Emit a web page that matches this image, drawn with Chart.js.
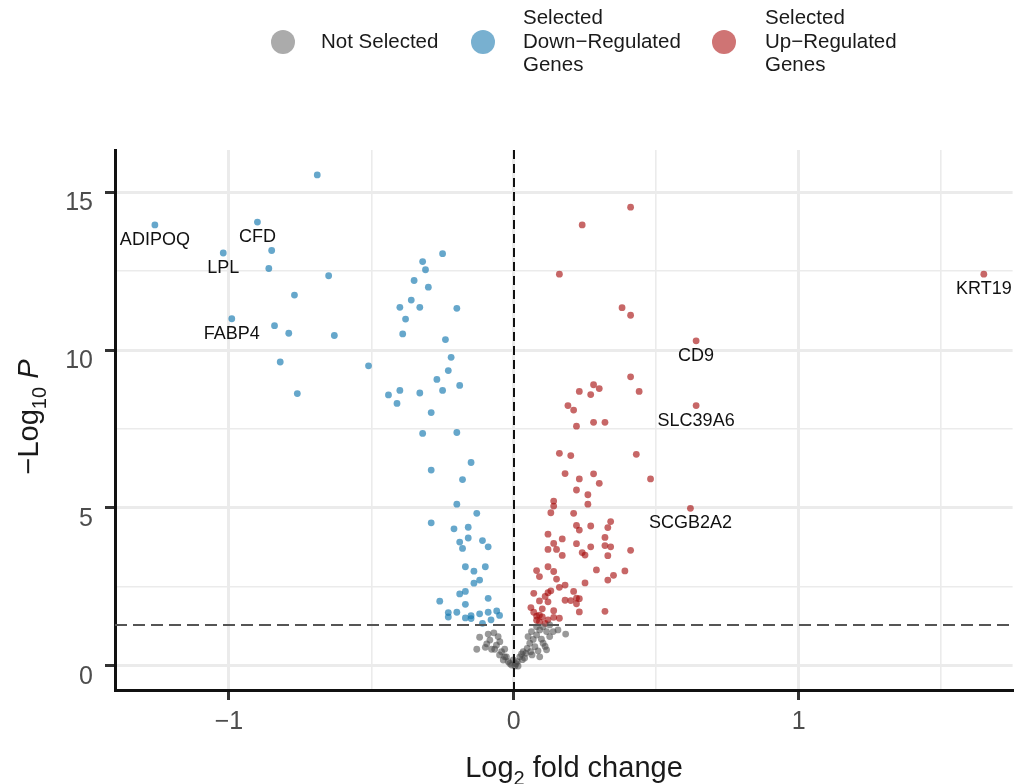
<!DOCTYPE html>
<html><head><meta charset="utf-8">
<script src="https://cdn.jsdelivr.net/npm/chart.js@4"></script>
<style>html,body{margin:0;padding:0;background:#fff;overflow:hidden}</style>
</head><body>
<canvas id="c" width="1016" height="784"></canvas>
<script>
// ---------- data ----------
const notSelectedX = [-0.12,-0.09,-0.07,-0.055,-0.13,-0.10,-0.067,-0.049,-0.043,-0.032,-0.02,-0.008,0.004,0.012,0.021,0.033,0.047,0.056,0.068,0.08,0.091,0.103,0.115,0.126,0.138,0.155,0.182,0.091,0.115,0.074,0.103,0.062,0.08,0.126,0.05,-0.026,-0.037,-0.084,-0.061,0.015,-0.002,0.027,0.042,-0.032,0.059,-0.078,
 -0.014,0.008,0.038,-0.05,0.064,0.097,0.11,-0.095,0.03,0.085];
const notSelectedY = [0.91,1.01,1.05,0.93,0.53,0.59,0.53,0.77,0.45,0.29,0.14,0.03,0.0,0.14,0.29,0.45,0.56,0.72,0.84,0.98,1.14,1.24,1.09,0.93,1.09,1.14,1.01,0.29,0.51,0.61,0.72,1.09,1.24,1.30,0.93,0.29,0.19,0.82,0.66,0.0,0.19,0.38,0.40,0.53,0.45,0.53,
 0.08,0.07,0.25,0.35,0.35,0.85,0.62,0.70,0.20,0.48];

const downX = [-0.69,-1.26,-0.90,-0.85,-1.02,-0.86,-0.65,-0.77,-0.99,-0.84,-0.79,-0.63,-0.82,-0.76,
 -0.25,-0.32,-0.31,-0.35,-0.30,-0.36,-0.40,-0.33,-0.20,-0.38,-0.39,-0.24,-0.22,-0.51,-0.23,-0.27,-0.19,-0.25,-0.40,-0.44,-0.33,-0.41,-0.29,
 -0.32,-0.20,-0.15,-0.29,-0.18,-0.20,-0.13,-0.29,-0.21,-0.16,-0.19,-0.16,-0.11,-0.18,-0.09,-0.17,-0.10,-0.14,-0.12,-0.14,-0.17,-0.19,-0.26,-0.17,-0.09,-0.23,-0.23,-0.20,-0.17,-0.15,-0.15,-0.12,-0.09,-0.06,-0.05,-0.08,-0.11];
const downY = [15.54,13.96,14.05,13.15,13.07,12.58,12.35,11.74,10.99,10.77,10.53,10.46,9.62,8.62,
 13.05,12.80,12.54,12.20,11.99,11.58,11.35,11.35,11.32,10.98,10.51,10.33,9.77,9.50,9.35,9.07,8.88,8.72,8.72,8.58,8.64,8.31,8.02,
 7.36,7.39,6.44,6.20,5.90,5.12,4.83,4.53,4.34,4.39,3.92,4.05,3.97,3.72,3.77,3.14,3.14,3.00,2.72,2.62,2.36,2.28,2.05,1.95,2.14,1.69,1.55,1.70,1.52,1.59,1.50,1.65,1.70,1.74,1.60,1.46,1.35];

const upX = [0.41,0.24,0.16,0.38,0.41,0.64,0.41,0.28,0.30,0.23,0.27,0.44,0.64,0.19,0.21,
 0.22,0.28,0.32,0.16,0.20,0.43,0.18,0.28,0.23,0.30,0.48,0.22,0.26,0.26,0.14,0.14,0.13,0.21,0.22,0.23,0.27,0.34,0.33,0.12,0.17,0.32,0.14,0.22,0.27,0.32,0.34,0.41,0.12,0.15,0.17,0.24,0.25,0.33,
 0.08,0.09,0.12,0.14,0.15,0.29,0.39,0.35,0.33,0.25,0.07,0.09,0.12,0.13,0.12,0.16,0.18,0.18,0.21,0.20,0.22,0.23,0.22,0.23,0.32,0.10,0.07,0.08,0.14,0.16,0.14,0.12,0.11,0.09,
 0.08,0.10,0.06,0.11,0.09,0.62,1.65];
const upY = [14.52,13.96,12.40,11.34,11.10,10.29,9.15,8.90,8.78,8.69,8.59,8.69,8.24,8.24,8.10,
 7.59,7.71,7.71,6.73,6.66,6.70,6.09,6.08,5.92,5.78,5.92,5.57,5.42,5.12,5.22,5.06,4.85,4.83,4.45,4.30,4.43,4.57,4.38,4.17,4.02,4.07,3.88,3.87,3.77,3.81,3.77,3.66,3.69,3.69,3.50,3.59,3.51,3.49,
 3.02,2.83,3.14,2.99,2.75,3.04,3.01,2.87,2.72,2.63,2.30,2.06,2.32,2.38,2.03,2.49,2.56,2.08,2.36,2.07,2.15,2.13,1.97,1.71,1.73,1.81,1.70,1.58,1.75,1.51,1.54,1.46,1.35,1.61,
 1.45,1.55,1.85,2.20,1.40,4.99,12.40];

const geneNames = ['ADIPOQ','CFD','LPL','FABP4','KRT19','CD9','SLC39A6','SCGB2A2'];
const geneX = [-1.26,-0.90,-1.02,-0.99,1.65,0.64,0.64,0.62];
const geneY = [13.96,14.05,13.07,10.99,12.40,10.29,8.24,4.99];

const seriesNames = [['Not Selected'],['Selected','Down\u2212Regulated','Genes'],['Selected','Up\u2212Regulated','Genes']];

const xGridValues = [-1,-0.5,0,0.5,1,1.5];
const xTickValues = [-1,0,1];
const xTickLabels = ['\u22121','0','1'];
const yGridValues = [0,2.5,5,7.5,10,12.5,15];
const yTickValues = [0,5,10,15];
const yTickLabels = ['0','5','10','15'];

const pCutoff = 1.3;   // -log10(0.05)
const fcCutoff = 0;

// ---------- chart ----------
const FONT = "'Liberation Sans', Arial, Helvetica, sans-serif";
const toPts = (xs, ys) => xs.map((x, i) => ({x, y: ys[i]}));
const ptColors = ['rgba(70,70,70,0.55)','rgba(20,120,175,0.65)','rgba(165,10,10,0.62)'];
const legendColors = ['#ababab','#78b0d0','#cf7474'];

const overlay = {
  id: 'overlay',
  afterDatasetsDraw(chart) {
    const {ctx, chartArea: a, scales: {x, y}} = chart;
    ctx.save();
    ctx.lineWidth = 2;
    ctx.strokeStyle = '#111';
    ctx.setLineDash([9, 5]);
    const vx = Math.round(x.getPixelForValue(fcCutoff));
    ctx.beginPath(); ctx.moveTo(vx, a.top); ctx.lineTo(vx, a.bottom); ctx.stroke();
    ctx.strokeStyle = '#555';
    ctx.setLineDash([12, 6]);
    const hy = Math.round(y.getPixelForValue(pCutoff));
    ctx.beginPath(); ctx.moveTo(a.left, hy); ctx.lineTo(a.right, hy); ctx.stroke();
    ctx.setLineDash([]);
    ctx.fillStyle = '#111';
    ctx.font = '18px ' + FONT;
    ctx.textAlign = 'center'; ctx.textBaseline = 'middle';
    geneNames.forEach((g, i) => {
      ctx.fillText(g, x.getPixelForValue(geneX[i]), y.getPixelForValue(geneY[i]) + 15);
    });
    ctx.restore();
  },
  afterDraw(chart) {
    const {ctx, chartArea: a} = chart;
    ctx.save();
    const cx = [283, 483, 724];
    const tx = [321, 523, 765];
    ctx.font = '20.5px ' + FONT;
    ctx.textAlign = 'left'; ctx.textBaseline = 'middle';
    seriesNames.forEach((lines, i) => {
      ctx.fillStyle = legendColors[i];
      ctx.beginPath(); ctx.arc(cx[i], 42, 12, 0, Math.PI * 2); ctx.fill();
      ctx.fillStyle = '#1a1a1a';
      const n = lines.length;
      lines.forEach((t, j) => ctx.fillText(t, tx[i], 42 + (j - (n - 1) / 2) * 23.5));
    });
    ctx.fillStyle = '#1a1a1a';
    const big = 29, small = 20;
    const parts = [['Log', big, 0], ['2', small, 8], [' fold change', big, 0]];
    let w = 0;
    parts.forEach(p => { ctx.font = p[1] + 'px ' + FONT; w += ctx.measureText(p[0]).width; });
    let px = 574 - w / 2;
    ctx.textAlign = 'left'; ctx.textBaseline = 'alphabetic';
    parts.forEach(p => { ctx.font = p[1] + 'px ' + FONT; ctx.fillText(p[0], px, 777 + p[2]); px += ctx.measureText(p[0]).width; });
    ctx.translate(38, (a.top + a.bottom) / 2 - 3);
    ctx.rotate(-Math.PI / 2);
    const yparts = [['\u2212Log', big, 0, ''], ['10', small, 8, ''], [' ', big, 0, ''], ['P', big, 0, 'italic ']];
    w = 0;
    yparts.forEach(p => { ctx.font = p[3] + p[1] + 'px ' + FONT; w += ctx.measureText(p[0]).width; });
    px = -w / 2;
    yparts.forEach(p => { ctx.font = p[3] + p[1] + 'px ' + FONT; ctx.fillText(p[0], px, p[2]); px += ctx.measureText(p[0]).width; });
    ctx.restore();
  }
};

const isMajor = (v, list) => list.some(t => Math.abs(t - v) < 1e-9);

new Chart(document.getElementById('c'), {
  type: 'scatter',
  data: {
    datasets: [
      {label: seriesNames[0].join(' '), data: toPts(notSelectedX, notSelectedY), backgroundColor: ptColors[0]},
      {label: seriesNames[1].join(' '), data: toPts(downX, downY), backgroundColor: ptColors[1]},
      {label: seriesNames[2].join(' '), data: toPts(upX, upY), backgroundColor: ptColors[2]}
    ]
  },
  options: {
    responsive: false,
    animation: false,
    devicePixelRatio: 1,
    elements: {point: {radius: 3.4, hoverRadius: 3.4, borderWidth: 0}},
    layout: {padding: {top: 150, right: 0, left: 0, bottom: 0}},
    plugins: {legend: {display: false}, tooltip: {enabled: false}},
    scales: {
      x: {
        type: 'linear', min: -1.400, max: 1.751,
        afterBuildTicks: s => { s.ticks = xGridValues.map(v => ({value: v})); },
        afterFit: s => { s.height = 94; },
        border: {display: true, color: '#111', width: 3},
        grid: {
          color: '#ebebeb',
          lineWidth: c => isMajor(c.tick.value, xTickValues) ? 3 : 1.6,
          drawTicks: true, tickLength: 10, tickWidth: 3,
          tickColor: c => isMajor(c.tick.value, xTickValues) ? '#333' : 'rgba(0,0,0,0)'
        },
        ticks: {
          autoSkip: false, maxRotation: 0, padding: 7,
          color: '#4d4d4d', font: {size: 25, family: FONT},
          callback: v => { const i = xTickValues.findIndex(t => Math.abs(t - v) < 1e-9); return i >= 0 ? xTickLabels[i] : ''; }
        }
      },
      y: {
        type: 'linear', min: -0.76, max: 16.33,
        afterBuildTicks: s => { s.ticks = yGridValues.map(v => ({value: v})); },
        afterFit: s => { s.width = 115; },
        border: {display: true, color: '#111', width: 3},
        grid: {
          color: '#ebebeb',
          lineWidth: c => isMajor(c.tick.value, yTickValues) ? 3 : 1.6,
          drawTicks: true, tickLength: 10, tickWidth: 3,
          tickColor: c => isMajor(c.tick.value, yTickValues) ? '#333' : 'rgba(0,0,0,0)'
        },
        ticks: {
          autoSkip: false, padding: 12, labelOffset: 11,
          color: '#4d4d4d', font: {size: 25, family: FONT},
          callback: v => { const i = yTickValues.findIndex(t => Math.abs(t - v) < 1e-9); return i >= 0 ? yTickLabels[i] : ''; }
        }
      }
    }
  },
  plugins: [overlay]
});
</script>
</body></html>
